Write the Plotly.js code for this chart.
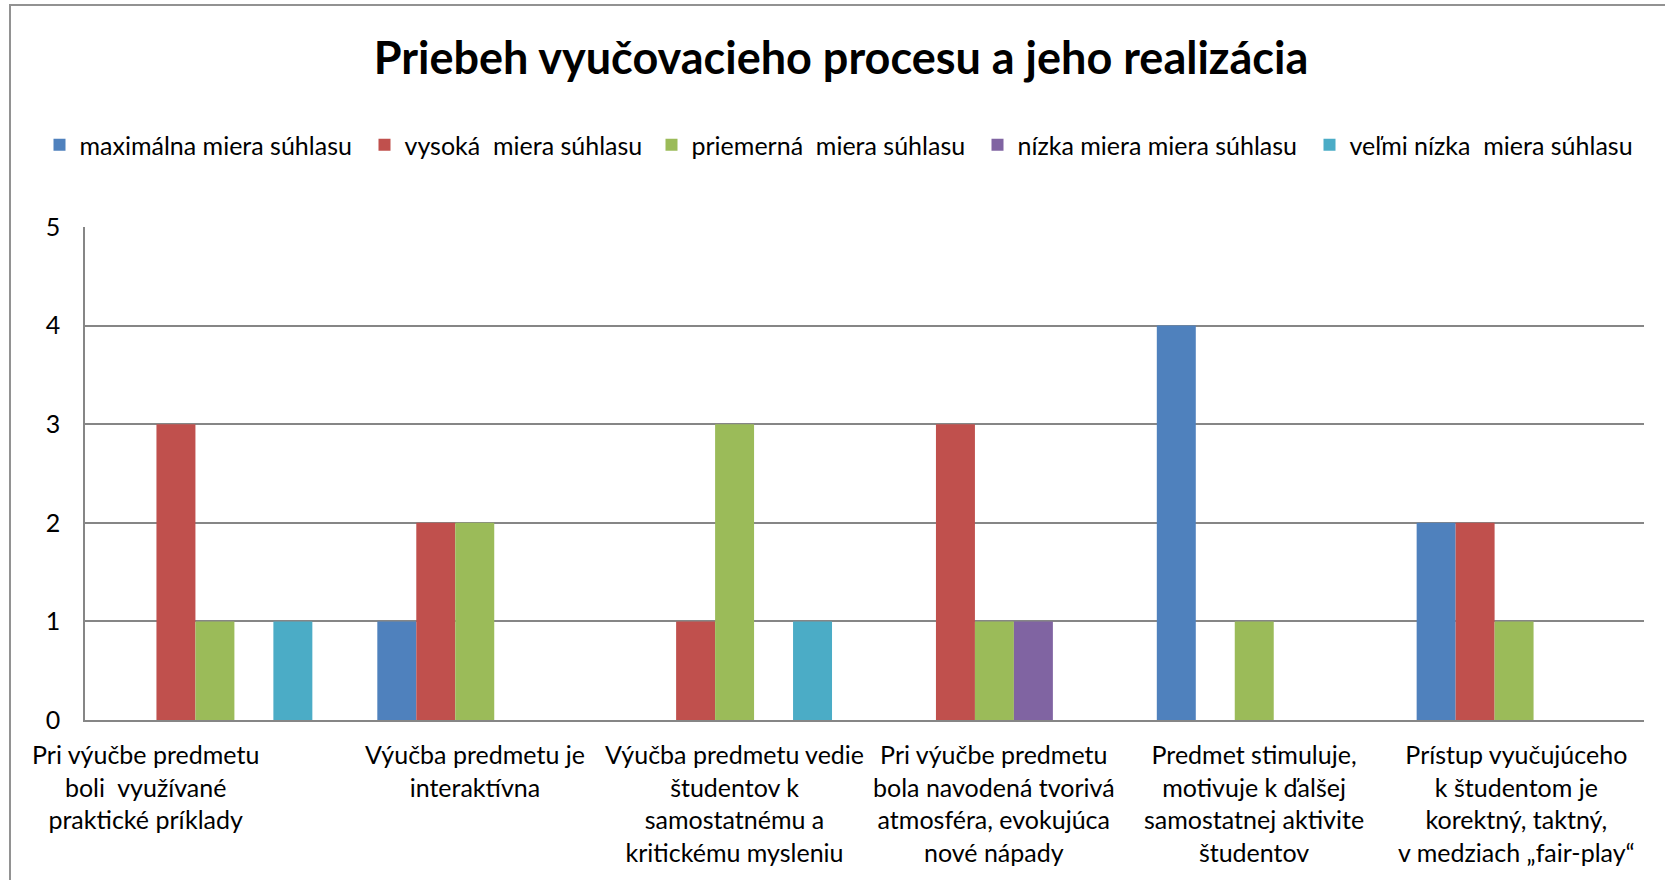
<!DOCTYPE html>
<html>
<head>
<meta charset="utf-8">
<script src="https://cdn.plot.ly/plotly-3.0.1.min.js"></script>
<style>
html,body{margin:0;padding:0;background:#fff;overflow:hidden;}
#frame{position:absolute;left:9px;top:4px;width:1700px;height:920px;border:2px solid #929292;box-sizing:border-box;pointer-events:none;z-index:5;}
#chart{position:absolute;left:0;top:0;width:1665px;height:880px;}
</style>
</head>
<body>
<div id="chart"></div>
<div id="frame"></div>
<script>
const categories = [
  "Pri výučbe predmetu<br>boli  využívané<br>praktické príklady",
  "Výučba predmetu je<br>interaktívna",
  "Výučba predmetu vedie<br>študentov k<br>samostatnému a<br>kritickému mysleniu",
  "Pri výučbe predmetu<br>bola navodená tvorivá<br>atmosféra, evokujúca<br>nové nápady",
  "Predmet stimuluje,<br>motivuje k ďalšej<br>samostatnej aktivite<br>študentov",
  "Prístup vyučujúceho<br>k študentom je<br>korektný, taktný,<br>v medziach „fair-play“"
];
const seriesNames = [
  "maximálna miera súhlasu",
  "vysoká  miera súhlasu",
  "priemerná  miera súhlasu",
  "nízka miera miera súhlasu",
  "veľmi nízka  miera súhlasu"
];
const maximalna = [0, 1, 0, 0, 4, 2];
const vysoka    = [3, 2, 1, 3, 0, 2];
const priemerna = [1, 2, 3, 1, 1, 1];
const nizka     = [0, 0, 0, 1, 0, 0];
const velmiNizka= [1, 0, 1, 0, 0, 0];
const seriesColors = ["#4F81BD", "#C0504D", "#9BBB59", "#8064A2", "#4BACC6"];

// layout only: horizontal pixel nudge of each category label, legend entry positions (px)
const labelShift = [-69, 0, 0, 0, 0, 2];
const legendLeftPx = [55, 380, 667, 993, 1325];

const seriesValues = [maximalna, vysoka, priemerna, nizka, velmiNizka];
const legendIds = ["legend", "legend2", "legend3", "legend4", "legend5"];
const traces = seriesValues.map((vals, i) => ({
  type: "bar",
  name: seriesNames[i],
  x: categories,
  y: vals,
  legend: legendIds[i],
  marker: {color: seriesColors[i], line: {width: 0}},
  hoverinfo: "x+y+name"
}));

const FONT = "Lato, Carlito, Calibri, 'Open Sans', sans-serif";
const annotations = categories.map((c, i) => ({
  text: c,
  x: i, xref: "x",
  y: 0, yref: "paper",
  xanchor: "center", yanchor: "top",
  xshift: labelShift[i], yshift: -17,
  showarrow: false,
  align: "center",
  font: {family: FONT, size: 25, color: "#000000"}
}));

const PL = 85, PT = 227, PB = 160, PR = 21;

const layout = {
  width: 1665, height: 880,
  paper_bgcolor: "#ffffff", plot_bgcolor: "#ffffff",
  font: {family: FONT, color: "#000000", size: 25},
  margin: {l: PL, r: PR, t: PT, b: PB, pad: 0},
  barmode: "group",
  bargap: 0.25,
  bargroupgap: 0,
  title: {
    text: "<b>Priebeh vyučovacieho procesu a jeho realizácia</b>",
    font: {family: FONT, size: 45, color: "#000000"},
    xref: "container", yref: "container",
    x: 841/1665, xanchor: "center",
    y: 1 - 58/880, yanchor: "middle"
  },
  xaxis: {
    type: "category",
    range: [-0.5, 5.5], autorange: false,
    showline: true, linecolor: "#868686", linewidth: 1.5,
    showgrid: false, ticks: "",
    showticklabels: false,
    automargin: false,
    fixedrange: true
  },
  yaxis: {
    range: [0, 5], autorange: false, dtick: 1, tick0: 0,
    showline: true, linecolor: "#868686", linewidth: 1.5,
    showgrid: true, gridcolor: "#868686", gridwidth: 1.5,
    zeroline: false,
    ticks: "",
    ticklabelstandoff: 18,
    tickfont: {family: FONT, size: 25, color: "#000000"},
    automargin: false,
    fixedrange: true
  },
  annotations: annotations,
  showlegend: true
};

legendIds.forEach((id, i) => {
  layout[id] = {
    orientation: "h",
    xref: "container", yref: "container",
    x: (legendLeftPx[i] - 15.5) / 1665, xanchor: "left",
    y: 1 - 145/880, yanchor: "middle",
    font: {family: FONT, size: 25, color: "#000000"},
    itemwidth: 30,
    bgcolor: "rgba(0,0,0,0)"
  };
});

Plotly.newPlot("chart", traces, layout, {displayModeBar: false});
</script>
</body>
</html>
